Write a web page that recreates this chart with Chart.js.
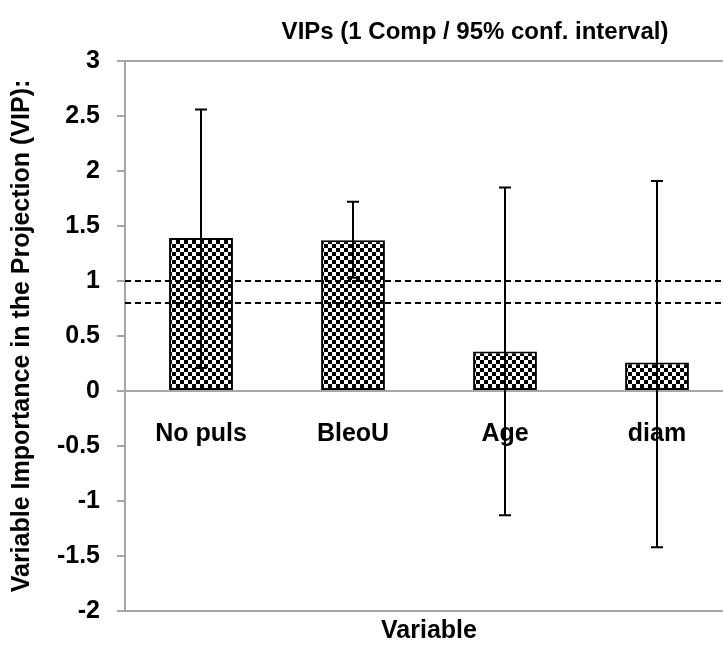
<!DOCTYPE html>
<html>
<head>
<meta charset="utf-8">
<script src="https://cdn.jsdelivr.net/npm/chart.js@4"></script>
<style>
    html, body { margin: 0; padding: 0; background: #fff; overflow: hidden; }
    #wrap { width: 745px; height: 646px; }
</style>
</head>
<body>
<div id="wrap"><canvas id="chart"></canvas></div>
<script>
        const categories = ['No puls', 'BleoU', 'Age', 'diam'];
        const vipValues = [1.39, 1.37, 0.36, 0.26];
        const ciLower = [0.21, 1.03, -1.13, -1.42];
        const ciUpper = [2.56, 1.72, 1.85, 1.91];
        const thresholds = [1, 0.8];
        const yTicks = [3, 2.5, 2, 1.5, 1, 0.5, 0, -0.5, -1, -1.5, -2];

        const FONT = '"Liberation Sans", Arial, sans-serif';
        const AXIS_GREY = '#a6a6a6';

        function checkerPattern() {
            const c = document.createElement('canvas');
            const s = 4;
            c.width = s * 2;
            c.height = s * 2;
            const g = c.getContext('2d');
            g.fillStyle = '#fff';
            g.fillRect(0, 0, s * 2, s * 2);
            g.fillStyle = '#000';
            g.fillRect(0, 0, s, s);
            g.fillRect(s, s, s, s);
            return g.createPattern(c, 'repeat');
        }

        // error bars, threshold lines, top border and chart title
        const extras = {
            id: 'extras',
            afterDatasetsDraw(chart) {
                const { ctx, chartArea, scales } = chart;
                const x = scales.x, y = scales.y;
                ctx.save();

                ctx.strokeStyle = AXIS_GREY;
                ctx.lineWidth = 2;
                ctx.beginPath();
                ctx.moveTo(chartArea.left, chartArea.top);
                ctx.lineTo(chartArea.right, chartArea.top);
                ctx.stroke();

                ctx.strokeStyle = '#000';
                ctx.lineWidth = 2;
                ctx.setLineDash([6, 4]);
                thresholds.forEach(t => {
                    const py = Math.round(y.getPixelForValue(t));
                    ctx.beginPath();
                    ctx.moveTo(chartArea.left, py);
                    ctx.lineTo(chartArea.right, py);
                    ctx.stroke();
                });
                ctx.setLineDash([]);

                ctx.lineWidth = 2;
                categories.forEach((c, i) => {
                    const px = Math.round(x.getPixelForValue(i));
                    const top = y.getPixelForValue(ciUpper[i]);
                    const bot = y.getPixelForValue(ciLower[i]);
                    ctx.beginPath();
                    ctx.moveTo(px, top);
                    ctx.lineTo(px, bot);
                    ctx.moveTo(px - 6, top);
                    ctx.lineTo(px + 6, top);
                    ctx.moveTo(px - 6, bot);
                    ctx.lineTo(px + 6, bot);
                    ctx.stroke();
                });

                ctx.fillStyle = '#000';
                ctx.font = 'bold 24px ' + FONT;
                ctx.textAlign = 'center';
                ctx.textBaseline = 'middle';
                ctx.fillText('VIPs (1 Comp / 95% conf. interval)', 475, 32);
                ctx.restore();
            }
        };

        const ctx = document.getElementById('chart').getContext('2d');

        const chart = new Chart(ctx, {
            type: 'bar',
            data: {
                labels: categories,
                datasets: [{
                    label: 'VIP',
                    data: vipValues,
                    backgroundColor: checkerPattern(),
                    borderColor: '#000',
                    borderWidth: 2,
                    borderSkipped: false,
                    categoryPercentage: 1,
                    barPercentage: 0.42
                }]
            },
            options: {
                responsive: true,
                maintainAspectRatio: false,
                animation: false,
                layout: { padding: { top: 61, right: 12, left: 0, bottom: 0 } },
                plugins: {
                    legend: { display: false },
                    tooltip: { enabled: false }
                },
                scales: {
                    x: {
                        position: { y: 0 },
                        grid: { display: false },
                        border: { color: AXIS_GREY, width: 2 },
                        ticks: {
                            color: '#000',
                            padding: 20,
                            font: { family: FONT, size: 25, weight: 'bold' }
                        }
                    },
                    x2: {
                        type: 'category',
                        labels: categories,
                        position: 'bottom',
                        grid: { display: false },
                        border: { color: AXIS_GREY, width: 2 },
                        ticks: { display: false },
                        title: {
                            display: true,
                            text: 'Variable',
                            color: '#000',
                            padding: { top: 4, bottom: 0 },
                            font: { family: FONT, size: 25, weight: 'bold' }
                        },
                        afterFit(scale) { scale.height = 35; }
                    },
                    y: {
                        min: -2,
                        max: 3,
                        afterBuildTicks(scale) {
                            scale.ticks = yTicks.map(v => ({ value: v }));
                        },
                        grid: {
                            drawOnChartArea: false,
                            drawTicks: true,
                            tickLength: 8,
                            color: AXIS_GREY,
                            lineWidth: 2
                        },
                        border: { color: AXIS_GREY, width: 2 },
                        ticks: {
                            color: '#000',
                            padding: 17,
                            callback: v => String(v),
                            font: { family: FONT, size: 25, weight: 'bold' }
                        },
                        title: {
                            display: true,
                            text: 'Variable Importance in the Projection (VIP):',
                            color: '#000',
                            padding: { top: 7, bottom: 0 },
                            font: { family: FONT, size: 25, weight: 'bold' }
                        },
                        afterFit(scale) { scale.width = 125; }
                    }
                }
            },
            plugins: [extras]
        });
</script>
</body>
</html>
